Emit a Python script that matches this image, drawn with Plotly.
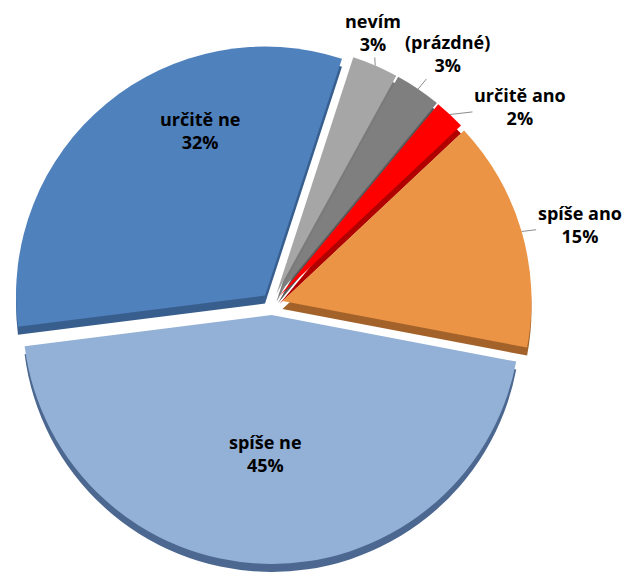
import math
import plotly.graph_objects as go

# Survey answers, clockwise from the top
labels = ["nevím", "(prázdné)", "určitě ano", "spíše ano", "spíše ne", "určitě ne"]
shares = [3, 3, 2, 15, 45, 32]

face_colors = ["#A6A6A6", "#7F7F7F", "#FF0000", "#EB9446", "#93B0D6", "#4F81BD"]
side_colors = ["#7A7A7A", "#595959", "#B00000", "#A3622A", "#4C6890", "#385E8E"]

W, H = 626, 574
cx, cy = 272, 304          # pie centre in pixels (from top-left)
radius = 249               # slice radius in pixels
explode = 0.044            # pull of every slice, as a fraction of the radius
depth = 8                  # visible edge thickness in pixels
start = 18                 # first slice starts this many degrees clockwise from 12 o'clock

# label placement: anchor on the slice's outer arc, then a screen offset in pixels
# (outside labels get a thin leader line, inside ones are just shifted)
label_inside = [False, False, False, False, True, True]
label_offset = [(-2, -33), (29, -35), (70, -8), (58, -7), (2, -110), (94, 27)]

half = radius * (1 + explode)
fig = go.Figure()

# darker copy underneath gives the pie its edge thickness
sy_mid = H - cy - depth
fig.add_trace(go.Pie(
    labels=labels, values=shares, sort=False, direction="clockwise",
    rotation=start, pull=[explode] * len(shares),
    marker=dict(colors=side_colors, line=dict(width=0)),
    textinfo="none", hoverinfo="skip", showlegend=False,
    domain=dict(x=[(cx - half) / W, (cx + half) / W],
                y=[max(0, (sy_mid - half) / H), (sy_mid + half) / H]),
))

fig.add_trace(go.Pie(
    labels=labels, values=shares, sort=False, direction="clockwise",
    rotation=start, pull=[explode] * len(shares),
    marker=dict(colors=face_colors, line=dict(width=0)),
    textinfo="none", hoverinfo="label+percent", showlegend=False,
    domain=dict(x=[(cx - half) / W, (cx + half) / W],
                y=[(H - cy - half) / H, (H - cy + half) / H]),
))

# data labels: "label / percent" placed from each slice's mid angle
total = sum(shares)
cum = 0
font = dict(family="Open Sans, Lato, sans-serif", size=18, color="#000000", weight="bold")
for lab, val, inside, (ox, oy) in zip(labels, shares, label_inside, label_offset):
    mid = math.radians(start + 360 * (cum + val / 2) / total)
    cum += val
    dx, dy = math.sin(mid), -math.cos(mid)
    pcx = cx + explode * radius * dx
    pcy = cy + explode * radius * dy
    ax_px = pcx + radius * dx
    ay_px = pcy + radius * dy
    text = f"{lab}<br>{round(100 * val / total)}%"
    common = dict(xref="paper", yref="paper", x=ax_px / W, y=1 - ay_px / H,
                  text=text, font=font, align="center")
    if inside:
        fig.add_annotation(**common, showarrow=False, xanchor="center", yanchor="middle",
                           xshift=ox, yshift=-oy)
    else:
        fig.add_annotation(**common, showarrow=True, arrowhead=0, arrowwidth=0.8,
                           arrowcolor="#6F6F6F", ax=ox, ay=oy, standoff=0)

fig.update_layout(
    width=W, height=H,
    margin=dict(l=0, r=0, t=0, b=0),
    paper_bgcolor="white",
    plot_bgcolor="white",
)

fig.write_html("out.html")
